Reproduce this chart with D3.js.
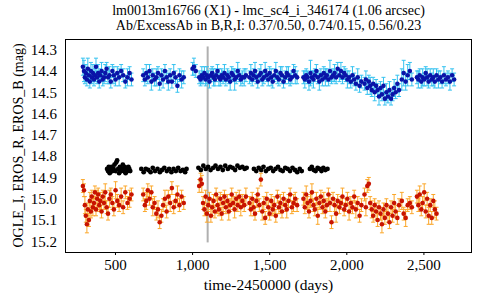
<!DOCTYPE html>
<html>
<head>
<meta charset="utf-8">
<script src="https://cdn.jsdelivr.net/npm/d3@7"></script>
<style>
  body { margin: 0; background: #fff; }
  text { font-family: "Liberation Serif", "Times New Roman", serif; }
</style>
</head>
<body>
<svg id="chart"></svg>
<script>
const titleLines = [
  "lm0013m16766 (X1) - lmc_sc4_i_346174 (1.06 arcsec)",
  "Ab/ExcessAb in B,R,I: 0.37/0.50, 0.74/0.15, 0.56/0.23"
];
const xTicks = [500, 1000, 1500, 2000, 2500];
const yTicks = [14.3, 14.4, 14.5, 14.6, 14.7, 14.8, 14.9, 15.0, 15.1, 15.2];

// EROS epochs (shared by B and R)
const erosT = [
  292, 299, 305, 311, 318, 324, 331, 337, 344, 350, 357, 364, 370, 377, 384, 391, 398, 405, 413, 421,
  429, 437, 446, 455, 464, 473, 483, 493, 504, 515, 527, 540, 553, 567, 581, 595, 607,
  683, 694, 703, 713, 724, 736, 745, 757, 768, 779, 790, 801, 812, 824, 835, 846, 858, 869, 881, 893, 905, 918, 932, 946,
  1003, 1012, 1024, 1046, 1055, 1063, 1071, 1080, 1088, 1096, 1105, 1113, 1122, 1130, 1139, 1148, 1156, 1165, 1174, 1183,
  1192, 1201, 1210, 1219, 1229, 1238, 1247, 1257, 1266, 1276, 1286, 1296, 1306, 1316, 1326,
  1338, 1349, 1372, 1381, 1390, 1399, 1408, 1417, 1426, 1436, 1446, 1455, 1465, 1474, 1484, 1494, 1503, 1513, 1523, 1533,
  1543, 1553, 1563, 1573, 1583, 1593, 1604, 1614, 1625, 1636, 1647, 1658, 1669, 1681,
  1722, 1731, 1740, 1749, 1758, 1768, 1777, 1787, 1796, 1806, 1815, 1825, 1835, 1845, 1854, 1864, 1874, 1884, 1894, 1904,
  1914, 1924, 1934, 1944, 1955, 1965, 1975, 1986, 1996, 2007, 2018, 2029, 2040, 2051, 2062, 2074, 2086, 2098,
  2118, 2127, 2136, 2146, 2155, 2165, 2174, 2184, 2193, 2203, 2212, 2222, 2231, 2241, 2250, 2260, 2270, 2280, 2290, 2300,
  2310, 2320, 2331, 2342, 2360, 2372, 2385, 2398, 2412, 2425,
  2458, 2467, 2476, 2486, 2495, 2505, 2515, 2524, 2534, 2544, 2554, 2564, 2574, 2585, 2597, 2609, 2621, 2633, 2646, 2659,
  2672, 2686, 2699
];
const erosB = [
  14.38, 14.40, 14.43, 14.41, 14.44, 14.39, 14.42, 14.45, 14.40, 14.43, 14.41, 14.44, 14.42, 14.38, 14.43, 14.41, 14.45, 14.42, 14.40, 14.44,
  14.43, 14.41, 14.39, 14.43, 14.42, 14.45, 14.40, 14.42, 14.44, 14.41, 14.43, 14.40, 14.42, 14.45, 14.43, 14.41, 14.44,
  14.42, 14.44, 14.41, 14.43, 14.40, 14.45, 14.42, 14.44, 14.43, 14.41, 14.46, 14.42, 14.44, 14.40, 14.43, 14.45, 14.42, 14.45, 14.41, 14.43, 14.47, 14.42, 14.44, 14.43,
  14.39, 14.38, 14.40, 14.43, 14.44, 14.42, 14.43, 14.41, 14.44, 14.42, 14.43, 14.45, 14.42, 14.41, 14.43, 14.44, 14.42, 14.40, 14.43, 14.44,
  14.42, 14.43, 14.41, 14.44, 14.42, 14.43, 14.45, 14.41, 14.42, 14.44, 14.43, 14.40, 14.42, 14.44, 14.43,
  14.43, 14.42, 14.43, 14.41, 14.44, 14.42, 14.40, 14.43, 14.45, 14.42, 14.41, 14.44, 14.43, 14.40, 14.42, 14.44, 14.41, 14.43, 14.45, 14.42,
  14.40, 14.43, 14.44, 14.41, 14.42, 14.45, 14.43, 14.41, 14.42, 14.44, 14.43, 14.40, 14.42, 14.43,
  14.43, 14.44, 14.42, 14.43, 14.45, 14.41, 14.43, 14.44, 14.42, 14.40, 14.43, 14.45, 14.42, 14.44, 14.41, 14.43, 14.42, 14.44, 14.40, 14.43,
  14.42, 14.41, 14.43, 14.39, 14.42, 14.40, 14.43, 14.41, 14.42, 14.44, 14.43, 14.45, 14.42, 14.44, 14.46, 14.43, 14.47, 14.45,
  14.46, 14.44, 14.48, 14.45, 14.47, 14.49, 14.46, 14.50, 14.47, 14.49, 14.52, 14.48, 14.51, 14.47, 14.53, 14.50, 14.52, 14.49, 14.53, 14.51,
  14.48, 14.50, 14.46, 14.49, 14.44, 14.41, 14.45, 14.42, 14.40, 14.44,
  14.43, 14.44, 14.42, 14.45, 14.43, 14.44, 14.41, 14.43, 14.45, 14.42, 14.44, 14.43, 14.45, 14.42, 14.44, 14.43, 14.45, 14.42, 14.44, 14.43,
  14.45, 14.42, 14.44
];
const erosBErr = [
  0.04, 0.05, 0.03, 0.04, 0.03, 0.05, 0.03, 0.03, 0.04, 0.03, 0.04, 0.03, 0.03, 0.04, 0.03, 0.04, 0.03, 0.03, 0.04, 0.03,
  0.03, 0.04, 0.03, 0.03, 0.04, 0.03, 0.03, 0.04, 0.03, 0.03, 0.04, 0.03, 0.03, 0.03, 0.04, 0.03, 0.03,
  0.03, 0.03, 0.04, 0.03, 0.03, 0.04, 0.03, 0.03, 0.04, 0.03, 0.03, 0.03, 0.04, 0.03, 0.03, 0.04, 0.03, 0.03, 0.04, 0.03, 0.03, 0.03, 0.04, 0.03,
  0.03, 0.04, 0.03, 0.03, 0.03, 0.04, 0.03, 0.03, 0.03, 0.04, 0.03, 0.03, 0.03, 0.03, 0.04, 0.03, 0.03, 0.03, 0.04, 0.03,
  0.03, 0.03, 0.04, 0.03, 0.03, 0.03, 0.04, 0.03, 0.03, 0.05, 0.03, 0.04, 0.03, 0.03, 0.03,
  0.04, 0.03, 0.03, 0.04, 0.03, 0.03, 0.04, 0.03, 0.03, 0.03, 0.04, 0.03, 0.03, 0.04, 0.03, 0.03, 0.03, 0.04, 0.03, 0.03,
  0.04, 0.03, 0.03, 0.03, 0.04, 0.03, 0.03, 0.03, 0.04, 0.03, 0.03, 0.03, 0.04, 0.03,
  0.03, 0.04, 0.03, 0.03, 0.04, 0.06, 0.03, 0.04, 0.03, 0.03, 0.03, 0.04, 0.03, 0.03, 0.03, 0.04, 0.03, 0.03, 0.05, 0.03,
  0.03, 0.04, 0.03, 0.03, 0.03, 0.04, 0.03, 0.03, 0.03, 0.04, 0.03, 0.03, 0.04, 0.03, 0.03, 0.04, 0.03, 0.03,
  0.03, 0.04, 0.03, 0.03, 0.04, 0.03, 0.03, 0.04, 0.03, 0.03, 0.04, 0.03, 0.03, 0.04, 0.03, 0.04, 0.03, 0.04, 0.03, 0.03,
  0.04, 0.03, 0.04, 0.03, 0.05, 0.06, 0.04, 0.05, 0.04, 0.03,
  0.03, 0.04, 0.03, 0.03, 0.04, 0.03, 0.03, 0.04, 0.03, 0.03, 0.03, 0.04, 0.03, 0.03, 0.04, 0.03, 0.03, 0.04, 0.03, 0.03,
  0.04, 0.03, 0.03
];
const erosR = [
  14.94, 14.96, 15.03, 15.08, 15.12, 15.05, 15.10, 15.01, 15.06, 14.99, 15.04, 15.02, 14.97, 15.05, 15.00, 14.98, 15.03, 15.01, 15.06, 14.99,
  15.02, 14.97, 15.04, 15.07, 15.00, 14.98, 15.02, 15.05, 14.96, 15.01, 15.03, 14.99, 15.04, 14.97, 15.02, 15.00, 14.98,
  14.98, 15.03, 15.01, 14.96, 15.00, 14.97, 15.04, 15.02, 15.07, 15.05, 15.11, 15.08, 15.03, 15.00, 15.06, 14.99, 15.02, 14.95, 15.04, 15.01, 14.98, 15.03, 14.99, 15.02,
  null, null, null, 14.94, 14.91, 14.93, 15.02, 15.05, 14.99, 15.07, 15.03, 15.00, 15.08, 15.04, 15.01, 15.06, 14.98, 15.03, 15.05, 15.00,
  15.07, 15.02, 14.99, 15.04, 15.01, 15.06, 15.03, 14.98, 15.02, 15.05, 15.00, 15.03, 14.99, 15.04, 15.01,
  15.03, 14.99, 15.02, 15.05, 15.00, 15.04, 15.07, 15.01, 14.98, 15.03, 14.91, 15.06, 15.02, 15.09, 15.00, 15.04, 15.07, 15.01, 15.05, 15.03,
  15.08, 14.99, 15.04, 15.02, 15.06, 15.00, 15.03, 15.05, 15.01, 14.98, 15.04, 15.02, 15.00, 15.03,
  15.00, 15.04, 14.98, 15.02, 15.06, 15.01, 14.97, 15.03, 15.05, 15.00, 15.08, 15.02, 14.99, 15.04, 15.01, 15.06, 15.03, 14.98, 15.02, 15.11,
  15.00, 15.03, 15.07, 15.01, 15.04, 15.02, 14.99, 15.05, 15.03, 15.00, 15.06, 15.02, 15.04, 14.99, 15.05, 15.02, 15.08, 15.03,
  14.98, 15.04, 14.94, 14.93, 15.02, 15.05, 15.08, 15.03, 15.06, 15.10, 15.04, 15.07, 15.12, 15.05, 15.09, 15.03, 15.07, 15.11, 15.04, 15.08,
  15.02, 15.06, 15.09, 15.03, 15.01, 15.07, 15.09, 15.03, 15.02, 15.04,
  14.99, 15.03, 14.98, 15.05, 15.02, 14.97, 15.06, 15.00, 15.08, 15.03, 15.09, 15.01, 15.05, 15.07, null, null, null, null, null, null,
  null, null, null
];
const erosRErr = [
  0.03, 0.03, 0.04, 0.03, 0.04, 0.03, 0.03, 0.04, 0.03, 0.03, 0.04, 0.03, 0.03, 0.03, 0.04, 0.03, 0.03, 0.04, 0.03, 0.03,
  0.03, 0.04, 0.03, 0.03, 0.04, 0.03, 0.03, 0.03, 0.04, 0.03, 0.03, 0.04, 0.03, 0.03, 0.03, 0.04, 0.03,
  0.03, 0.03, 0.04, 0.03, 0.03, 0.03, 0.04, 0.03, 0.03, 0.04, 0.03, 0.03, 0.03, 0.04, 0.03, 0.03, 0.04, 0.03, 0.03, 0.03, 0.04, 0.03, 0.03, 0.03,
  0, 0, 0, 0.03, 0.03, 0.04, 0.03, 0.03, 0.03, 0.04, 0.03, 0.03, 0.03, 0.04, 0.03, 0.03, 0.03, 0.04, 0.03, 0.03,
  0.03, 0.04, 0.03, 0.03, 0.03, 0.04, 0.03, 0.03, 0.03, 0.04, 0.03, 0.03, 0.03, 0.04, 0.03,
  0.03, 0.04, 0.03, 0.03, 0.03, 0.04, 0.03, 0.03, 0.03, 0.03, 0.03, 0.04, 0.03, 0.03, 0.03, 0.04, 0.03, 0.03, 0.03, 0.04,
  0.03, 0.03, 0.03, 0.04, 0.03, 0.03, 0.03, 0.04, 0.03, 0.03, 0.03, 0.04, 0.03, 0.03,
  0.03, 0.03, 0.04, 0.03, 0.03, 0.03, 0.04, 0.03, 0.03, 0.03, 0.04, 0.03, 0.03, 0.03, 0.04, 0.03, 0.03, 0.03, 0.04, 0.03,
  0.03, 0.03, 0.04, 0.03, 0.03, 0.03, 0.04, 0.03, 0.03, 0.03, 0.04, 0.03, 0.03, 0.03, 0.04, 0.03, 0.03, 0.03,
  0.03, 0.04, 0.03, 0.03, 0.03, 0.04, 0.03, 0.03, 0.04, 0.03, 0.03, 0.03, 0.04, 0.03, 0.03, 0.03, 0.04, 0.03, 0.03, 0.03,
  0.04, 0.03, 0.03, 0.03, 0.04, 0.03, 0.04, 0.03, 0.03, 0.03,
  0.03, 0.03, 0.04, 0.03, 0.03, 0.04, 0.03, 0.03, 0.04, 0.03, 0.03, 0.03, 0.04, 0.03, 0, 0, 0, 0, 0, 0,
  0, 0, 0
];

// OGLE I epochs and magnitudes
const ogleT = [
  449, 455, 460, 466, 473, 478, 484, 491, 497, 503, 508, 514, 521, 527, 532, 539, 545, 551, 556, 563, 569, 575, 581, 587, 593, 599,
  671, 686, 700, 716, 731, 745, 760, 776, 791, 805, 820, 836, 851, 866, 880, 895, 910, 925, 940, 955, 964,
  1041, 1057, 1073, 1089, 1104, 1120, 1137, 1152, 1168, 1184, 1199, 1215, 1232, 1247, 1263, 1279, 1294, 1310, 1326, 1341, 1354,
  1401, 1416, 1432, 1448, 1463, 1479, 1494, 1510, 1526, 1541, 1557, 1573, 1588, 1604, 1620, 1635, 1651, 1667, 1682, 1698, 1711,
  1764, 1776, 1789, 1801, 1814, 1826, 1839, 1851, 1864, 1878
];
const ogleI = [
  14.86, 14.87, 14.85, 14.88, 14.86, 14.85, 14.87, 14.86, 14.84, 14.87, 14.83, 14.82, 14.86, 14.88, 14.85, 14.87, 14.86, 14.84, 14.87, 14.85, 14.88, 14.86, 14.87, 14.85, 14.86, 14.87,
  14.86, 14.875, 14.86, 14.865, 14.875, 14.855, 14.87, 14.86, 14.875, 14.865, 14.855, 14.87, 14.86, 14.875, 14.86, 14.87, 14.855, 14.87, 14.865, 14.875, 14.86,
  14.855, 14.865, 14.845, 14.86, 14.85, 14.865, 14.855, 14.845, 14.86, 14.85, 14.865, 14.845, 14.86, 14.85, 14.855, 14.865, 14.845, 14.855, 14.85, 14.86, 14.855,
  14.86, 14.87, 14.855, 14.865, 14.85, 14.87, 14.86, 14.855, 14.87, 14.86, 14.85, 14.865, 14.87, 14.855, 14.86, 14.87, 14.855, 14.865, 14.875, 14.86, 14.87,
  14.86, 14.85, 14.865, 14.87, 14.855, 14.86, 14.87, 14.855, 14.865, 14.86
];

// vertical marker
const markerT = 1101;
const markerMags = [14.285, 15.205];

const W = 480, H = 300;
const M = { top: 39, right: 8, bottom: 48, left: 65 };
const PW = W - M.left - M.right, PH = H - M.top - M.bottom;

const svg = d3.select("#chart").attr("width", W).attr("height", H);

const x = d3.scaleLinear().domain([176, 2815]).range([M.left, M.left + PW]);
const y = d3.scaleLinear().domain([14.25, 15.25]).range([M.top, M.top + PH]);

// title
svg.append("g")
  .selectAll("text")
  .data(titleLines)
  .enter()
  .append("text")
  .attr("x", M.left + PW / 2)
  .attr("y", (d, i) => 15 + i * 15)
  .attr("text-anchor", "middle")
  .attr("font-size", 14)
  .text(d => d);

// axes
const xAxis = svg.append("g")
  .attr("transform", `translate(0,${M.top + PH})`)
  .call(d3.axisBottom(x).tickValues(xTicks).tickFormat(d3.format(",")).tickSizeInner(3).tickSizeOuter(0).tickPadding(4));
const yAxis = svg.append("g")
  .attr("transform", `translate(${M.left},0)`)
  .call(d3.axisLeft(y).tickValues(yTicks).tickFormat(d3.format(".1f")).tickSize(0).tickPadding(8));
[xAxis, yAxis].forEach(a => {
  a.attr("font-family", null);
  a.select(".domain").remove();
  a.selectAll("text").attr("font-size", 15).attr("fill", "#000");
});

svg.append("text")
  .attr("x", M.left + PW / 2)
  .attr("y", 290)
  .attr("text-anchor", "middle")
  .attr("font-size", 15.5)
  .text("time-2450000 (days)");

svg.append("text")
  .attr("transform", `translate(23,${M.top + PH / 2}) rotate(-90)`)
  .attr("text-anchor", "middle")
  .attr("font-size", 14)
  .text("OGLE_I, EROS_R, EROS_B (mag)");

const plot = svg.append("g");

// marker line sits under the data
plot.append("line")
  .attr("x1", x(markerT)).attr("x2", x(markerT))
  .attr("y1", y(markerMags[0])).attr("y2", y(markerMags[1]))
  .attr("stroke", "#b0b0b0").attr("stroke-width", 2);

function errorBars(g, pts, color) {
  const bars = g.append("g").attr("stroke", color).attr("stroke-width", 1);
  pts.forEach(p => {
    const x0 = x(p.t), y1 = y(p.m - p.e), y2 = y(p.m + p.e);
    bars.append("line").attr("x1", x0).attr("x2", x0).attr("y1", y1).attr("y2", y2);
    bars.append("line").attr("x1", x0 - 2).attr("x2", x0 + 2).attr("y1", y1).attr("y2", y1);
    bars.append("line").attr("x1", x0 - 2).attr("x2", x0 + 2).attr("y1", y2).attr("y2", y2);
  });
}

const blue = erosT.map((t, i) => ({ t, m: erosB[i], e: erosBErr[i] }));
const red = erosT.map((t, i) => ({ t, m: erosR[i], e: erosRErr[i] })).filter(d => d.m != null);
const black = ogleT.map((t, i) => ({ t, m: ogleI[i] }));

errorBars(plot, blue, "#35c2f0");
plot.append("g").selectAll("circle").data(blue).enter().append("circle")
  .attr("cx", d => x(d.t)).attr("cy", d => y(d.m)).attr("r", 2.3)
  .attr("fill", "#0a14a8");

plot.append("g").selectAll("circle").data(black).enter().append("circle")
  .attr("cx", d => x(d.t)).attr("cy", d => y(d.m)).attr("r", 2.4)
  .attr("fill", "#000");

errorBars(plot, red, "#fba72a");
plot.append("g").selectAll("circle").data(red).enter().append("circle")
  .attr("cx", d => x(d.t)).attr("cy", d => y(d.m)).attr("r", 2.3)
  .attr("fill", "#c81400");

// frame
svg.append("rect")
  .attr("x", M.left + 0.5).attr("y", M.top + 0.5)
  .attr("width", PW - 1).attr("height", PH)
  .attr("fill", "none").attr("stroke", "#000").attr("stroke-width", 1);
</script>
</body>
</html>
